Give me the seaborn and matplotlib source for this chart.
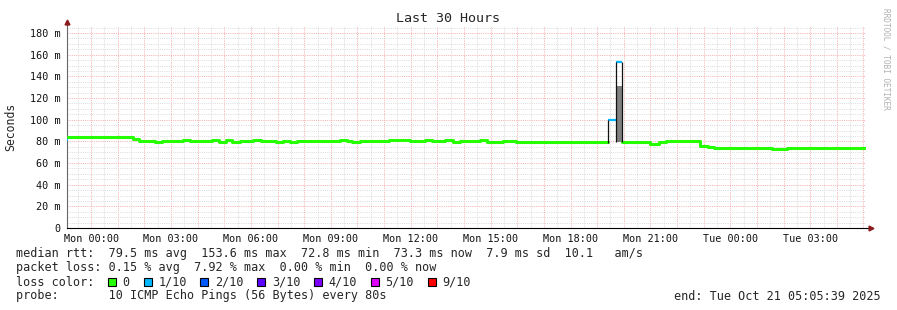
import numpy as np
import pandas as pd
import matplotlib
matplotlib.use("Agg")
import matplotlib.pyplot as plt
import seaborn as sns
from matplotlib.patches import Rectangle

# ---------------- data ----------------
title = "Last 30 Hours"
x_start, x_end = -0.906, 29.094          # hours relative to Mon 00:00
x_tick_hours = [0, 3, 6, 9, 12, 15, 18, 21, 24, 27]
x_tick_labels = ["Mon 00:00", "Mon 03:00", "Mon 06:00", "Mon 09:00", "Mon 12:00",
                 "Mon 15:00", "Mon 18:00", "Mon 21:00", "Tue 00:00", "Tue 03:00"]
y_ticks = [0, 20, 40, 60, 80, 100, 120, 140, 160, 180]
y_tick_labels = ["0", "20 m", "40 m", "60 m", "80 m", "100 m", "120 m", "140 m", "160 m", "180 m"]

# median rtt (ms), step series; NaN = gap where the loss-coloured spike is drawn
med_hours = [-0.85, 1.56, 1.81, 2.40, 2.66, 3.45, 3.71, 4.54, 4.80, 5.06, 5.30, 5.60,
             6.07, 6.37, 6.94, 7.20, 7.46, 7.72, 8.47, 9.34, 9.60, 9.80, 10.10, 11.17,
             11.96, 12.52, 12.79, 13.30, 13.57, 13.84, 14.60, 14.88, 15.19, 15.45, 15.94,
             19.42,
             19.95, 21.00, 21.33, 21.59, 21.86, 22.87, 23.15, 23.40, 23.70, 23.96, 24.80,
             25.30, 25.56, 26.12, 27.70, 27.96, 29.094]
med_ms = [83.7, 82.6, 80.2, 79.4, 80.0, 80.8, 80.0, 80.8, 79.5, 80.8, 79.5, 80.0,
          80.8, 80.0, 79.2, 80.0, 79.2, 80.6, 80.0, 80.8, 80.0, 79.3, 80.0, 80.8,
          80.0, 80.8, 80.0, 80.8, 79.3, 80.6, 81.2, 79.8, 79.0, 80.6, 79.3,
          np.nan,
          79.3, 78.0, 79.3, 80.6, 80.0, 76.0, 74.5, 73.5, 74.0, 73.5, 74.2,
          73.5, 72.7, 73.5, 74.0, 73.5, 73.5]

# loss-coloured samples (1/10 loss)
loss_start = [-0.906, 19.42, 19.72]
loss_end = [-0.85, 19.72, 19.95]
loss_ms = [81.3, 99.5, 153.0]
# smoke (grey band) in the spike
smoke_start = [19.72]
smoke_end = [19.95]
smoke_lo = [79.0]
smoke_hi = [131.0]

loss_labels = ["0", "1/10", "2/10", "3/10", "4/10", "5/10", "9/10"]
loss_colors = ["#26ff00", "#00b8ff", "#0059ff", "#5e00ff", "#7e00ff", "#dd00ff", "#ff0000"]

row_median = "median rtt:  79.5 ms avg  153.6 ms max  72.8 ms min  73.3 ms now  7.9 ms sd  10.1   am/s"
row_loss = "packet loss: 0.15 % avg  7.92 % max  0.00 % min  0.00 % now"
row_probe = "probe:       10 ICMP Echo Pings (56 Bytes) every 80s"
end_text = "end: Tue Oct 21 05:05:39 2025"
y_label = "Seconds"
credit = "RRDTOOL / TOBI OETIKER"

# ---------------- build frame ----------------
h = np.array(med_hours, dtype=float)
v = np.array(med_ms, dtype=float)
gap = int(np.where(np.isnan(v))[0][0])
part1_h = np.append(h[:gap], h[gap])
part1_v = np.append(v[:gap], v[gap - 1])
part2_h = h[gap + 1:]
part2_v = v[gap + 1:]
df = pd.DataFrame({
    "hours": np.concatenate([part1_h, part2_h]),
    "ms": np.concatenate([part1_v, part2_v]),
    "part": [0] * len(part1_h) + [1] * len(part2_h),
})

# ---------------- figure ----------------
sns.set_style("white")
MONO = "DejaVu Sans Mono"
plt.rcParams["font.family"] = [MONO, "DejaVu Sans"]

W, H = 897, 310
fig = plt.figure(figsize=(W / 100, H / 100), dpi=100)
fig.patch.set_facecolor("white")
ax_l, ax_r, ax_b, ax_t = 67, 866, 228, 26
ax = fig.add_axes([ax_l / W, 1 - ax_b / H, (ax_r - ax_l) / W, (ax_b - ax_t) / H])
ax.set_facecolor("white")

ax.set_xlim(x_start, x_end)
ax.set_ylim(0, 186.5)

# grids
ax.set_xticks(np.arange(0, 30, 1))
ax.set_xticks(np.arange(-0.5, 29.1, 0.5), minor=True)
ax.set_xticklabels([x_tick_labels[x_tick_hours.index(t)] if t in x_tick_hours else ""
                    for t in range(0, 30)])
ax.set_yticks(y_ticks)
ax.set_yticklabels(y_tick_labels)
ax.set_yticks(np.arange(0, 186, 5), minor=True)
ax.set_axisbelow(True)
ax.grid(which="minor", color="#dcdcdc", linestyle=(0, (1, 1.2)), linewidth=0.72)
ax.grid(which="major", color="#f7b0b0", linestyle=(0, (1, 1.2)), linewidth=0.72)

ax.tick_params(axis="both", which="both", direction="out", length=2.2, width=0.7,
               color="#555555", labelsize=7.3, labelcolor="#111111", pad=2.5)
ax.tick_params(axis="x", which="major", pad=2.0)
for lab in ax.get_xticklabels() + ax.get_yticklabels():
    lab.set_family(MONO)

for s in ["top", "right"]:
    ax.spines[s].set_visible(False)
ax.spines["left"].set_color("#666666")
ax.spines["left"].set_linewidth(0.8)
ax.spines["bottom"].set_color("#000000")
ax.spines["bottom"].set_linewidth(0.8)

# smoke
for s0, s1, lo, hi in zip(smoke_start, smoke_end, smoke_lo, smoke_hi):
    ax.fill_between([s0, s1], [lo, lo], [hi, hi], color="#808080", linewidth=0, zorder=2)

# median line
sns.lineplot(data=df, x="hours", y="ms", units="part", estimator=None, sort=False,
             drawstyle="steps-post", color=loss_colors[0], linewidth=2.2,
             legend=False, ax=ax, zorder=3)

# loss-coloured samples and their transitions
ax.hlines(loss_ms, loss_start, loss_end, color=loss_colors[1], linewidth=1.6, zorder=4)
ax.vlines([loss_start[1], loss_start[2], loss_end[2]],
          [78.5, 79.0, 79.0], [loss_ms[1], loss_ms[2], loss_ms[2]],
          color="#111111", linewidth=0.9, zorder=4)

ax.set_xlabel("")
ax.set_ylabel("")
fig.text(11 / W, 1 - 127 / H, y_label, rotation=90, ha="center", va="center",
         family=MONO, fontsize=8.3)

# axis arrows
ax.plot([1, 1.006], [0, 0], transform=ax.transAxes, color="black", lw=0.8, clip_on=False)
ax.plot([0, 0], [1, 1.02], transform=ax.transAxes, color="#666666", lw=0.8, clip_on=False)
ax.plot([1.006], [0], transform=ax.transAxes, marker=">", color="#8b1a1a",
        markersize=3.5, clip_on=False)
ax.plot([0], [1.02], transform=ax.transAxes, marker="^", color="#8b1a1a",
        markersize=3.5, clip_on=False)

# title & credit
fig.text(448 / W, 1 - 19 / H, title, ha="center", va="center", family=MONO, fontsize=9.6)
fig.text(886 / W, 1 - 59 / H, credit, ha="center", va="center", rotation=270,
         family=MONO, fontsize=5.6, color="#b0b0b0")

# legend rows
fs = 8.5
cw = 0.6021 * fs * 100 / 72          # char width in px
x0 = 16
rows_y = [254, 268, 282, 296]
fig.text(x0 / W, 1 - rows_y[0] / H, row_median, ha="left", va="center", family=MONO, fontsize=fs)
fig.text(x0 / W, 1 - rows_y[1] / H, row_loss, ha="left", va="center", family=MONO, fontsize=fs)
fig.text(x0 / W, 1 - rows_y[2] / H, "loss color:", ha="left", va="center", family=MONO, fontsize=fs)
k = 13
for lab, col in zip(loss_labels, loss_colors):
    cx = x0 + k * cw + cw / 2
    sq = 8
    fig.add_artist(Rectangle(((cx - sq / 2) / W, 1 - (rows_y[2] + sq / 2) / H), sq / W, sq / H,
                             transform=fig.transFigure, facecolor=col, edgecolor="black",
                             linewidth=0.8))
    fig.text((x0 + (k + 2) * cw) / W, 1 - rows_y[2] / H, lab, ha="left", va="center",
             family=MONO, fontsize=fs)
    k += 2 + len(lab) + 2
fig.text(x0 / W, 1 - rows_y[3] / H, row_probe, ha="left", va="center", family=MONO, fontsize=fs)
fig.text(881 / W, 1 - rows_y[3] / H, end_text, ha="right", va="center", family=MONO, fontsize=fs)

fig.savefig("out.png", dpi=100, facecolor="white")
